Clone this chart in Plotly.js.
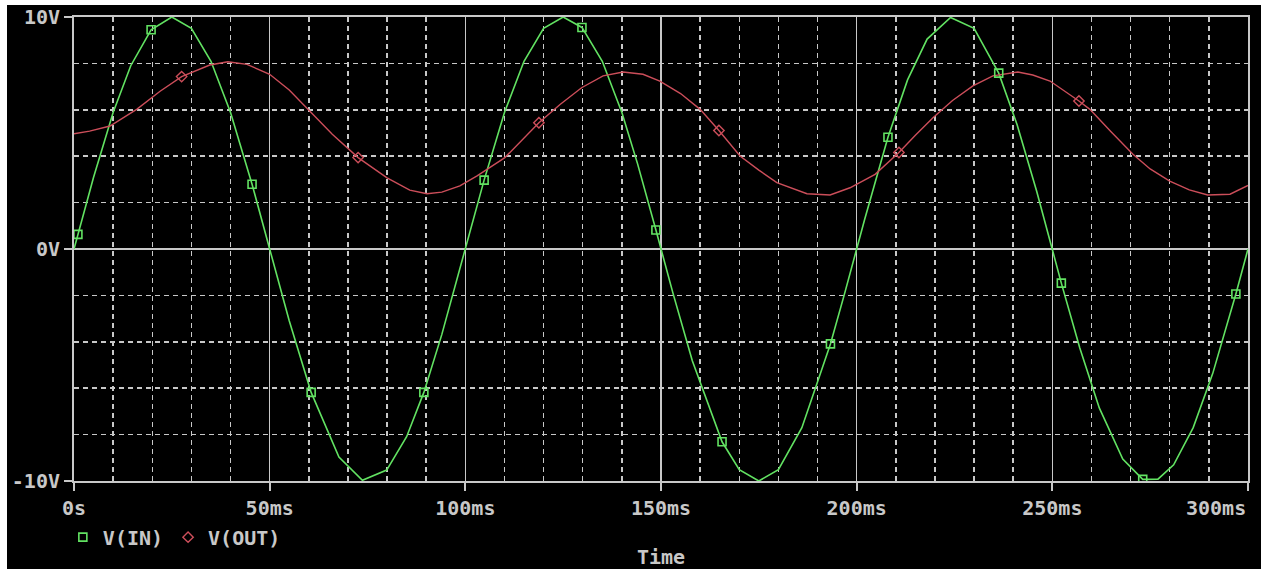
<!DOCTYPE html>
<html><head><meta charset="utf-8">
<script src="https://cdn.plot.ly/plotly-3.0.1.min.js"></script>
<style>
html,body{margin:0;padding:0;background:#fff;width:1261px;height:569px;overflow:hidden;}
#chart{position:absolute;left:7px;top:5px;width:1254px;height:564px;background:#000;}
</style></head><body><div id="chart"></div>
<script>
// V(IN) trace samples (time in ms, volts)
const timeIn = [0,1.0,5,10,14.5,19.7,25,30,35,40,45.5,50,55,60.6,67.7,73.7,79.9,85,89.4,94,99,104.8,110,115,120,125,129.8,135,140,144,148.7,153,158,165.6,170,175,180,186,193.3,197,202,208,213,218,224,230,236.3,241,246,252.3,257,262,268,273.1,277,281,286,291,296.9,300];
const vIn = [0,0.63,3.09,5.88,7.90,9.45,10,9.51,8.09,5.88,2.79,0,-3.09,-6.18,-8.97,-9.97,-9.53,-8.09,-6.18,-3.68,-0.63,2.97,5.88,8.09,9.51,10,9.55,8.09,5.88,3.68,0.82,-1.87,-4.82,-8.31,-9.51,-10,-9.51,-7.70,-4.09,-1.87,1.25,4.82,7.29,9.05,9.98,9.51,7.58,5.36,2.49,-1.47,-4.26,-6.85,-9.05,-9.93,-9.92,-9.30,-7.70,-5.36,-1.94,0];
const markTimeIn = [1.0,19.7,45.5,60.6,89.4,104.8,129.8,148.7,165.6,193.3,208,236.3,252.3,273.1,296.9];
const markVIn = [0.63,9.45,2.79,-6.18,-6.18,2.97,9.55,0.82,-8.31,-4.09,4.82,7.58,-1.47,-9.93,-1.94];

// V(OUT) trace samples
const timeOut = [0,4,9.2,16.1,22,27.5,34.7,39.3,44.2,50,55,59.8,66,72.6,80,85.8,90.2,94,98.6,103,110.1,118.8,124.2,129.7,135.2,140.3,145.4,149.7,155,160,164.8,170.2,175,179.6,187.3,193.2,198.3,204.7,210.8,215,219.5,224.5,229.7,234.8,241.2,245,249.4,256.8,259.6,265,270.6,275,280,285,289.7,295.4,300];
const vOut = [4.97,5.08,5.30,6.03,6.80,7.43,7.93,8.07,7.96,7.53,6.85,6.02,4.95,3.94,3.07,2.54,2.38,2.45,2.72,3.15,3.94,5.44,6.23,6.95,7.46,7.63,7.53,7.24,6.70,6.02,5.11,4.01,3.40,2.86,2.38,2.33,2.64,3.22,4.16,4.90,5.66,6.40,7.03,7.46,7.63,7.50,7.24,6.38,6.02,5.05,4.08,3.45,2.93,2.55,2.33,2.36,2.74];
const markTimeOut = [27.5,72.6,118.8,164.8,210.8,256.8];
const markVOut = [7.43,3.94,5.44,5.11,4.16,6.38];

const xTickVals = [0,50,100,150,200,250,300];
const xTickText = ['0s','50ms','100ms','150ms','200ms','250ms',''];
const xLastTickText = '300ms';   // right-aligned to its tick, as in the reference
const yTickVals = [-10,0,10];
const yTickText = ['-10V','0V','10V'];
const xAxisTitle = 'Time';

const green = '#62e262';
const red = '#cc4e5a';
const gray = '#c8c8c8';
const fnt = {family:'"DejaVu Sans Mono", monospace', size:20, color:gray, weight:'bold'};

const traces = [
  {x:timeIn, y:vIn, mode:'lines', line:{color:green, width:1.6}, showlegend:false, hoverinfo:'skip'},
  {x:timeOut, y:vOut, mode:'lines', line:{color:red, width:1.4}, showlegend:false, hoverinfo:'skip'},
  {x:markTimeIn, y:markVIn, mode:'markers', name:'V(IN)', marker:{symbol:'square-open', size:8, color:green, line:{width:1.6, color:green}}},
  {x:markTimeOut, y:markVOut, mode:'markers', name:'V(OUT)', marker:{symbol:'diamond-open', size:8, color:red, line:{width:1.4, color:red}}}
];

const layout = {
  width:1254, height:564,
  margin:{l:67, r:13, t:12, b:88},
  paper_bgcolor:'#000', plot_bgcolor:'#000',
  font:fnt,
  showlegend:true,
  legend:{orientation:'h', x:-0.0095, xanchor:'left', y:-0.121, yanchor:'middle', font:fnt, bgcolor:'rgba(0,0,0,0)', itemwidth:30},
  annotations:[
    {text:xLastTickText, x:xTickVals[xTickVals.length-1], xref:'x', xanchor:'right', y:0, yref:'paper', yanchor:'middle', yshift:-27, showarrow:false, font:fnt},
    {text:xAxisTitle, x:0.5, xref:'paper', xanchor:'center', y:0, yref:'paper', yanchor:'middle', yshift:-76, showarrow:false, font:fnt}
  ],
  xaxis:{
    range:[0,300], tickmode:'array', tickvals:xTickVals, ticktext:xTickText,
    ticks:'outside', ticklen:8, tickwidth:2, tickcolor:gray, ticklabelstandoff:0,
    ticklabeloverflow:'allow',
    showgrid:true, gridcolor:gray, gridwidth:1.5,
    minor:{tickmode:'linear', tick0:0, dtick:10, showgrid:true, gridcolor:gray, gridwidth:1.5, griddash:'5px,4px', ticks:''},
    showline:true, mirror:true, linecolor:gray, linewidth:2, zeroline:false,
    tickfont:fnt, automargin:false
  },
  yaxis:{
    range:[-10,10], tickmode:'array', tickvals:yTickVals, ticktext:yTickText,
    ticks:'outside', ticklen:8, tickwidth:2, tickcolor:gray,
    ticklabeloverflow:'allow',
    showgrid:true, gridcolor:gray, gridwidth:1.5,
    minor:{tickmode:'linear', tick0:0, dtick:2, showgrid:true, gridcolor:gray, gridwidth:1.5, griddash:'5px,4px', ticks:''},
    showline:true, mirror:true, linecolor:gray, linewidth:2, zeroline:false,
    tickfont:fnt, automargin:false
  }
};

Plotly.newPlot('chart', traces, layout, {displayModeBar:false, staticPlot:true});
</script></body></html>
